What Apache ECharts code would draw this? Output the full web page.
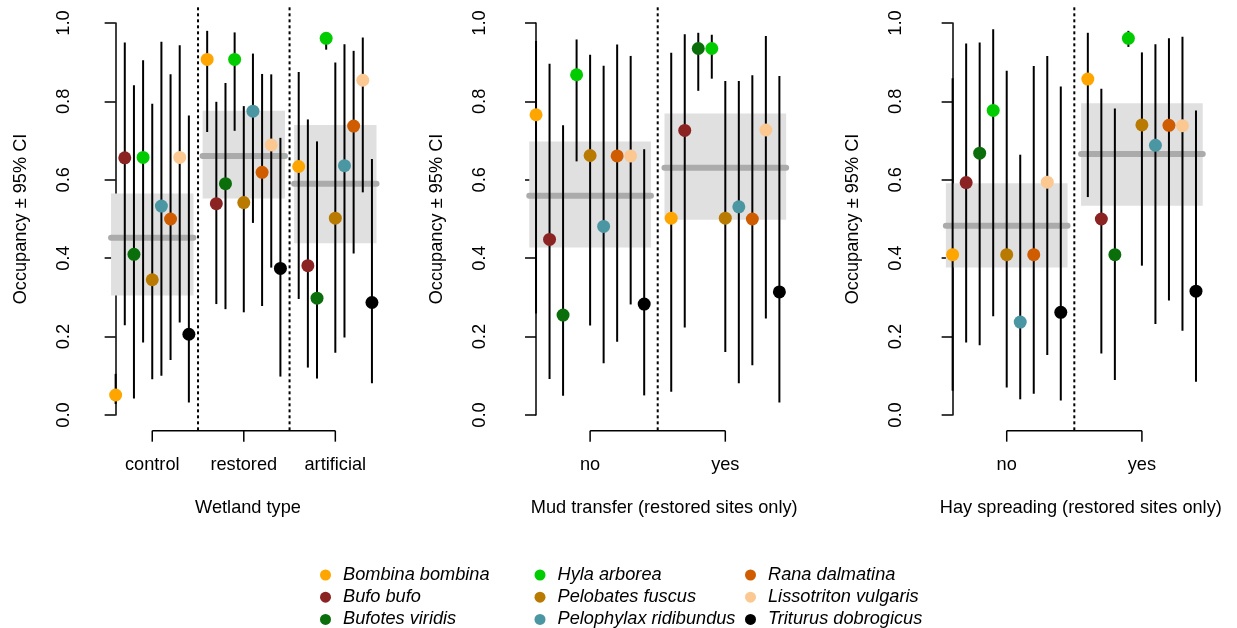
<!DOCTYPE html>
<html lang="en">
<head>
    <meta charset="UTF-8">
    <script src="https://cdn.jsdelivr.net/npm/echarts@6.0.0/dist/echarts.min.js"></script>
    <style>
        * {
            margin: 0;
            padding: 0;
        }
        #chart {
            width: 1237px;
            height: 628px;
            background: #fff;
        }
    </style>
</head>
<body>
<div id="chart"></div>

<script>
    // species, in the order they are drawn inside each group
    const species = ['Bombina bombina', 'Bufo bufo', 'Bufotes viridis', 'Hyla arborea', 'Pelobates fuscus',
        'Pelophylax ridibundus', 'Rana dalmatina', 'Lissotriton vulgaris', 'Triturus dobrogicus']
    const speciesColors = ['#ffa500', '#8b2323', '#0a6e0a', '#00cc00', '#b87a00',
        '#4a96a2', '#d05c00', '#fbc892', '#000000']

    // panel 1: wetland type
    const wetlandGroups = ['control', 'restored', 'artificial']
    const wetlandEst = [
        [0.051, 0.656, 0.410, 0.657, 0.345, 0.533, 0.500, 0.657, 0.206],
        [0.907, 0.539, 0.590, 0.907, 0.542, 0.775, 0.619, 0.689, 0.374],
        [0.634, 0.381, 0.298, 0.961, 0.502, 0.636, 0.737, 0.854, 0.287]
    ]
    const wetlandLo = [
        [0.028, 0.229, 0.042, 0.185, 0.091, 0.100, 0.140, 0.236, 0.032],
        [0.722, 0.283, 0.270, 0.725, 0.262, 0.490, 0.278, 0.376, 0.098],
        [0.296, 0.121, 0.093, 0.932, 0.159, 0.198, 0.412, 0.568, 0.081]
    ]
    const wetlandHi = [
        [0.105, 0.950, 0.841, 0.905, 0.794, 0.952, 0.869, 0.943, 0.764],
        [0.980, 0.799, 0.847, 0.976, 0.788, 0.922, 0.870, 0.869, 0.707],
        [0.875, 0.754, 0.698, 0.975, 0.899, 0.946, 0.929, 0.963, 0.653]
    ]
    const wetlandAvg = [0.452, 0.661, 0.590]
    const wetlandAvgLo = [0.305, 0.552, 0.438]
    const wetlandAvgHi = [0.565, 0.776, 0.740]

    // panel 2: mud transfer
    const mudGroups = ['no', 'yes']
    const mudEst = [
        [0.766, 0.448, 0.255, 0.868, 0.662, 0.481, 0.661, 0.661, 0.283],
        [0.502, 0.726, 0.935, 0.935, 0.502, 0.531, 0.500, 0.727, 0.314]
    ]
    const mudLo = [
        [0.259, 0.092, 0.049, 0.647, 0.228, 0.132, 0.187, 0.282, 0.050],
        [0.059, 0.223, 0.827, 0.858, 0.161, 0.081, 0.127, 0.246, 0.032]
    ]
    const mudHi = [
        [0.954, 0.896, 0.739, 0.958, 0.919, 0.891, 0.945, 0.916, 0.678],
        [0.924, 0.971, 0.975, 0.970, 0.852, 0.852, 0.867, 0.967, 0.865]
    ]
    const mudAvg = [0.559, 0.631]
    const mudAvgLo = [0.427, 0.498]
    const mudAvgHi = [0.698, 0.769]

    // panel 3: hay spreading
    const hayGroups = ['no', 'yes']
    const hayEst = [
        [0.409, 0.593, 0.668, 0.777, 0.409, 0.237, 0.409, 0.594, 0.262],
        [0.857, 0.500, 0.409, 0.961, 0.740, 0.688, 0.739, 0.738, 0.316]
    ]
    const hayLo = [
        [0.062, 0.185, 0.178, 0.252, 0.070, 0.040, 0.054, 0.153, 0.037],
        [0.556, 0.157, 0.089, 0.939, 0.381, 0.232, 0.292, 0.215, 0.085]
    ]
    const hayHi = [
        [0.859, 0.948, 0.950, 0.984, 0.878, 0.664, 0.890, 0.916, 0.838],
        [0.975, 0.832, 0.782, 0.980, 0.925, 0.946, 0.961, 0.965, 0.777]
    ]
    const hayAvg = [0.483, 0.666]
    const hayAvgLo = [0.376, 0.534]
    const hayAvgHi = [0.591, 0.795]
</script>

<script>
    const FONT = "'Liberation Sans', Arial, sans-serif"
    const FS = 18.2
    const STEP = 10   // x units between groups (9 species + 1 gap)

    const panels = [
        {groups: wetlandGroups, est: wetlandEst, lo: wetlandLo, hi: wetlandHi,
            avg: wetlandAvg, avgLo: wetlandAvgLo, avgHi: wetlandAvgHi,
            title: 'Wetland type', left: 95.5, xmin: -2.2, xmax: 31.12},
        {groups: mudGroups, est: mudEst, lo: mudLo, hi: mudHi,
            avg: mudAvg, avgLo: mudAvgLo, avgHi: mudAvgHi,
            title: 'Mud transfer (restored sites only)', left: 511.7, xmin: -1.8, xmax: 20.76},
        {groups: hayGroups, est: hayEst, lo: hayLo, hi: hayHi,
            avg: hayAvg, avgLo: hayAvgLo, avgHi: hayAvgHi,
            title: 'Hay spreading (restored sites only)', left: 928.3, xmin: -1.8, xmax: 20.76}
    ]

    const lineSeg = (p1, p2, style) => ({
        type: 'line',
        shape: {x1: p1[0], y1: p1[1], x2: p2[0], y2: p2[1]},
        style: style
    })

    const grid = [], xAxis = [], yAxis = [], series = []

    panels.forEach((p, pi) => {
        const centers = p.groups.map((g, gi) => gi * STEP + 4)

        grid.push({left: p.left, top: 23, width: 305, height: 392})

        xAxis.push({
            gridIndex: pi,
            type: 'value',
            min: p.xmin,
            max: p.xmax,
            offset: 15.7,
            splitLine: {show: false},
            axisLine: {show: false},
            axisTick: {show: false},
            axisLabel: {
                customValues: centers,
                margin: 25,
                color: '#000',
                fontFamily: FONT,
                fontSize: FS,
                formatter: v => p.groups[Math.round((v - 4) / STEP)]
            },
            name: p.title,
            nameLocation: 'middle',
            nameGap: 68,
            nameTextStyle: {color: '#000', fontFamily: FONT, fontSize: FS}
        })

        yAxis.push({
            gridIndex: pi,
            type: 'value',
            min: 0,
            max: 1,
            interval: 0.2,
            splitLine: {show: false},
            axisLine: {show: true, lineStyle: {color: '#000', width: 1.5}},
            axisTick: {show: true, length: 11, lineStyle: {color: '#000', width: 1.5}},
            axisLabel: {
                rotate: 90,
                margin: 23,
                color: '#000',
                fontFamily: FONT,
                fontSize: FS,
                formatter: v => v.toFixed(1)
            },
            name: 'Occupancy \u00b1 95% CI',
            nameLocation: 'middle',
            nameGap: 66,
            nameTextStyle: {color: '#000', fontFamily: FONT, fontSize: FS}
        })

        // grey band (CI of the mean) and mean line per group
        series.push({
            type: 'custom',
            xAxisIndex: pi,
            yAxisIndex: pi,
            z: 1,
            silent: true,
            clip: false,
            data: p.groups.map((g, gi) => [gi * STEP - 0.5, gi * STEP + 8.5, p.avgLo[gi], p.avgHi[gi], p.avg[gi]]),
            renderItem: (params, api) => {
                const a = api.coord([api.value(0), api.value(3)])
                const b = api.coord([api.value(1), api.value(2)])
                const m1 = api.coord([api.value(0), api.value(4)])
                const m2 = api.coord([api.value(1), api.value(4)])
                return {
                    type: 'group',
                    children: [
                        {type: 'rect', shape: {x: a[0], y: a[1], width: b[0] - a[0], height: b[1] - a[1]},
                            style: {fill: '#e0e0e0'}},
                        lineSeg(m1, m2, {stroke: '#ababab', lineWidth: 6, lineCap: 'round'})
                    ]
                }
            }
        })

        // dotted separators between groups
        series.push({
            type: 'custom',
            xAxisIndex: pi,
            yAxisIndex: pi,
            z: 1,
            silent: true,
            clip: false,
            data: centers.slice(1).map(c => [c - 5]),
            renderItem: (params, api) => lineSeg(
                api.coord([api.value(0), 1.04]),
                api.coord([api.value(0), -0.04]),
                {stroke: '#000', lineWidth: 2, lineDash: [3, 3]})
        })

        // x axis bracket: line between first and last group, ticks pointing down
        series.push({
            type: 'custom',
            xAxisIndex: pi,
            yAxisIndex: pi,
            z: 1,
            silent: true,
            clip: false,
            data: centers.map(c => [c]),
            renderItem: (params, api) => {
                const t = api.coord([api.value(0), -0.04])
                const children = [lineSeg(t, [t[0], t[1] + 11], {stroke: '#000', lineWidth: 1.5})]
                if (params.dataIndex === 0) {
                    const r = api.coord([centers[centers.length - 1], -0.04])
                    children.push(lineSeg(t, r, {stroke: '#000', lineWidth: 1.5}))
                }
                return {type: 'group', children}
            }
        })

        // error bars
        const bars = []
        p.groups.forEach((g, gi) => species.forEach((s, si) => {
            bars.push([gi * STEP + si, p.lo[gi][si], p.hi[gi][si]])
        }))
        series.push({
            type: 'custom',
            xAxisIndex: pi,
            yAxisIndex: pi,
            z: 2,
            silent: true,
            data: bars,
            renderItem: (params, api) => lineSeg(
                api.coord([api.value(0), api.value(1)]),
                api.coord([api.value(0), api.value(2)]),
                {stroke: '#000', lineWidth: 2})
        })

        // points
        species.forEach((s, si) => {
            series.push({
                name: s,
                type: 'scatter',
                xAxisIndex: pi,
                yAxisIndex: pi,
                z: 3,
                symbolSize: 13,
                itemStyle: {color: speciesColors[si], opacity: 1},
                data: p.groups.map((g, gi) => [gi * STEP + si, p.est[gi][si]])
            })
        })
    })

    const legendCol = (names, left) => ({
        orient: 'vertical',
        left: left,
        top: 566,
        height: 80,
        padding: 0,
        itemGap: 4.2,
        itemWidth: 25,
        itemHeight: 11,
        icon: 'circle',
        selectedMode: false,
        data: names,
        textStyle: {color: '#000', fontFamily: FONT, fontSize: FS, fontStyle: 'italic', lineHeight: 18}
    })

    const chart = echarts.init(document.getElementById('chart'))
    chart.setOption({
        animation: false,
        backgroundColor: '#fff',
        grid: grid,
        xAxis: xAxis,
        yAxis: yAxis,
        legend: [
            legendCol(species.slice(0, 3), 320),
            legendCol(species.slice(3, 6), 534.5),
            legendCol(species.slice(6, 9), 745)
        ],
        series: series
    })
</script>
</body>
</html>
